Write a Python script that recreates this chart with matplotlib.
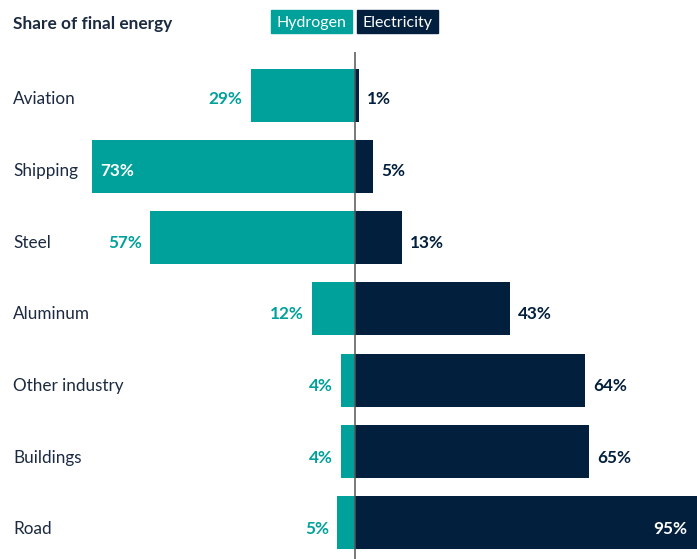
import matplotlib
matplotlib.use("Agg")
import matplotlib.pyplot as plt
from matplotlib.patches import Rectangle

plt.rcParams['font.family'] = ['Lato', 'DejaVu Sans']

categories = ["Aviation", "Shipping", "Steel", "Aluminum", "Other industry", "Buildings", "Road"]
hydrogen = [29, 73, 57, 12, 4, 4, 5]
electricity = [1, 5, 13, 43, 64, 65, 95]
inside_h = [False, True, False, False, False, False, False]
inside_e = [False, False, False, False, False, False, True]

TEAL = "#00A19A"
NAVY = "#021F3D"
TEXT = "#1B2A41"

W, H = 697, 559
fig = plt.figure(figsize=(W / 100, H / 100), dpi=100)
ax = fig.add_axes([0, 0, 1, 507 / H])
ax.set_xlim(-98.6, 95)
ax.set_ylim(6.514, -0.611)
ax.axis("off")

ys = list(range(len(categories)))
bh = 0.745
ax.barh(ys, [-v for v in hydrogen], height=bh, color=TEAL, zorder=2)
ax.barh(ys, electricity, height=bh, color=NAVY, zorder=2)
ax.axvline(0, color="#555555", lw=1.1, zorder=3)

fs = 12.3
pad = 2.2    # in data units (~8 px)
for y, name, h, e, ih, ie in zip(ys, categories, hydrogen, electricity, inside_h, inside_e):
    ty = y + 0.055 + 0.007 * y   # text sits slightly below the bar centre
    ax.text(-95, ty, name, ha="left", va="center", fontsize=fs, color=TEXT)
    if ih:
        ax.text(-h + pad, ty, f"{h}%", ha="left", va="center", fontsize=fs,
                fontweight="bold", color="white", zorder=4)
    else:
        ax.text(-h - pad, ty, f"{h}%", ha="right", va="center", fontsize=fs,
                fontweight="bold", color=TEAL, zorder=4)
    if ie:
        ax.text(e - 2.6, ty, f"{e}%", ha="right", va="center", fontsize=fs,
                fontweight="bold", color="white", zorder=4)
    else:
        ax.text(e + pad, ty, f"{e}%", ha="left", va="center", fontsize=fs,
                fontweight="bold", color=NAVY, zorder=4)

# Title
fig.text(13 / W, 1 - 23.5 / H, "Share of final energy", ha="left", va="center",
         fontsize=12.4, fontweight="bold", color=TEXT)

# Legend boxes
for x0, x1, label, col in [(271, 352, "Hydrogen", TEAL), (357, 438, "Electricity", NAVY)]:
    fig.patches.append(Rectangle((x0 / W, 1 - 33 / H), (x1 - x0) / W, 23 / H,
                                 transform=fig.transFigure, color=col))
    fig.text((x0 + x1) / 2 / W, 1 - 23 / H, label, ha="center", va="center",
             fontsize=11.5, color="white")

fig.savefig("out.png", dpi=100)
